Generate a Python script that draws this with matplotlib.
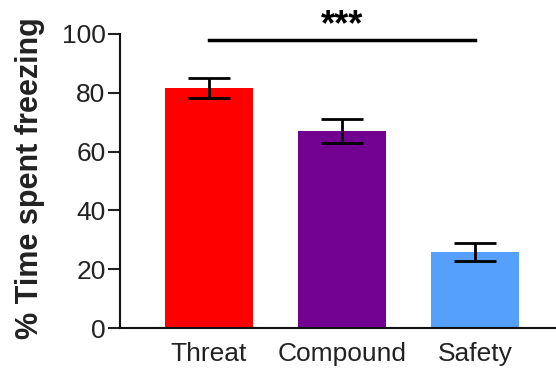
import matplotlib
matplotlib.use("Agg")
import matplotlib.pyplot as plt

plt.rcParams['font.family'] = ['Liberation Sans', 'DejaVu Sans']

# ----------- DATA -----------
groups = ["Threat", "Compound", "Safety"]
freezing = [81.6, 67.0, 25.9]
sem = [3.5, 4.0, 3.0]
colors = ["#FF0000", "#720090", "#55A0FA"]
yticks = [0, 20, 40, 60, 80, 100]
sig_label = "***"
sig_y = 98

fig = plt.figure(figsize=(5.56, 3.81), dpi=100)
ax = fig.add_axes([0.216, 0.139, 0.784, 0.772])

x = range(len(groups))
ax.bar(x, freezing, width=0.66, color=colors, zorder=2)
ax.errorbar(x, freezing, yerr=sem, fmt="none", ecolor="black",
            elinewidth=2, capsize=15, capthick=2, zorder=3)

# significance bar Threat vs Safety
ax.plot([0, 2], [sig_y, sig_y], color="black", lw=2.5, clip_on=False)
ax.text(1, sig_y + 1.5, sig_label, ha="center", va="baseline",
        fontsize=26, fontweight="bold", clip_on=False)

ax.set_xlim(-0.665, 2.61)
ax.set_ylim(0, 100)
ax.set_yticks(yticks)
ax.set_xticks(list(x))
ax.set_xticklabels(groups, fontsize=19)
ax.tick_params(axis="y", labelsize=19, width=1.5, length=8.5, color="#222222",
               labelcolor="#222222", pad=2)
ax.tick_params(axis="x", length=0, pad=10, labelcolor="#222222")
ax.set_ylabel("% Time spent freezing", fontsize=22, fontweight="bold",
              color="#222222")
ax.yaxis.set_label_coords(-0.172, 0.51)

for s in ["top", "right"]:
    ax.spines[s].set_visible(False)
for s in ["left", "bottom"]:
    ax.spines[s].set_linewidth(1.5)
    ax.spines[s].set_color("#111111")

fig.savefig("out.png", dpi=100)
